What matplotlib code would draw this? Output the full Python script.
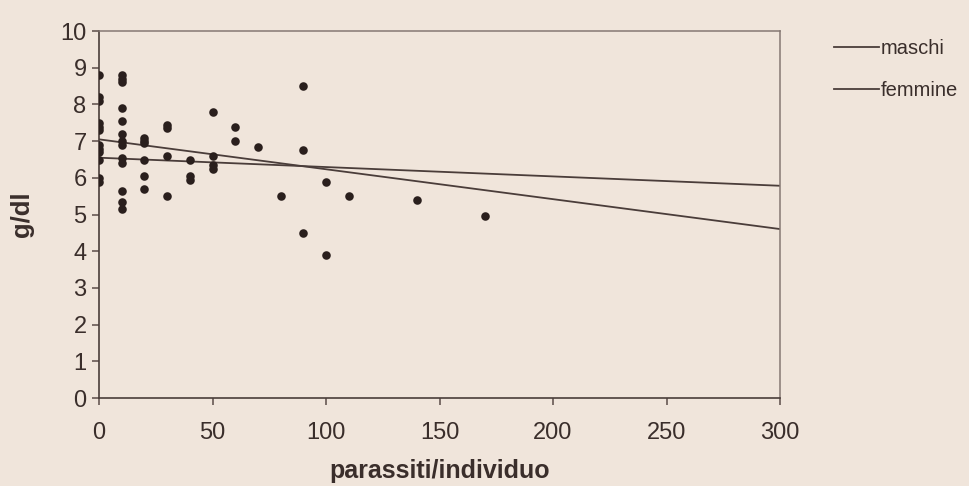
import numpy as np
import matplotlib.pyplot as plt

plt.rcParams['font.family'] = ['Liberation Sans', 'DejaVu Sans']

# parasites per individual and haemoglobin (g/dl)
parassiti = (
    [0] * 12 + [10] * 13 + [20] * 6 + [30] * 4 + [40] * 3 + [50] * 4
    + [60] * 2 + [70, 80, 90, 90, 90, 100, 100, 110, 140, 170]
)
emoglobina = [
    8.8, 8.2, 8.1, 7.5, 7.4, 7.3, 6.9, 6.8, 6.7, 6.5, 6.0, 5.9,
    8.8, 8.7, 8.6, 7.9, 7.55, 7.2, 7.0, 6.9, 6.55, 6.4, 5.65, 5.35, 5.15,
    7.1, 7.0, 6.95, 6.5, 6.05, 5.7,
    7.45, 7.35, 6.6, 5.5,
    6.5, 6.05, 5.95,
    7.8, 6.6, 6.35, 6.25,
    7.4, 7.0,
    6.85, 5.5, 8.5, 6.75, 4.5, 5.9, 3.9, 5.5, 5.4, 4.95,
]

# linear fits: intercept, slope
serie = ['maschi', 'femmine']
intercetta = [7.05, 6.55]
pendenza = [-0.00815, -0.00255]

bg = '#f0e5db'
ink = '#3a2e2b'

fig = plt.figure(figsize=(9.69, 4.86), dpi=100, facecolor=bg)
ax = fig.add_axes([0.1022, 0.181, 0.7028, 0.755], facecolor=bg)

ax.scatter(parassiti, emoglobina, s=38, color='#2a1f1d', zorder=3, linewidths=0)

xs = np.array([0, 300])
for nome, a, b in zip(serie, intercetta, pendenza):
    ax.plot(xs, a + b * xs, color='#4a3d3a', lw=1.3, label=nome, zorder=2)

ax.set_xlim(0, 300)
ax.set_ylim(0, 10)
ax.set_xticks(range(0, 301, 50))
ax.set_yticks(range(0, 11))
ax.tick_params(direction='out', length=5, width=1.1, color='#5a4c48',
               labelsize=17, labelcolor=ink, pad=4)
ax.tick_params(axis='x', pad=12)

for side in ['left', 'bottom']:
    ax.spines[side].set_color('#4a3d3a')
    ax.spines[side].set_linewidth(1.2)
for side in ['top', 'right']:
    ax.spines[side].set_color('#857873')
    ax.spines[side].set_linewidth(1.1)

ax.set_xlabel('parassiti/individuo', fontsize=18, fontweight='bold', color=ink, labelpad=11)
ax.set_ylabel('g/dl', fontsize=18.5, fontweight='bold', color=ink, labelpad=19)

leg = ax.legend(loc='upper left', bbox_to_anchor=(1.068, 1.0), frameon=False,
                fontsize=14.5, handlelength=2.2, handletextpad=0.1,
                labelspacing=1.15, borderaxespad=0)
for t in leg.get_texts():
    t.set_color(ink)

fig.savefig('out.png', dpi=100, facecolor=bg)
